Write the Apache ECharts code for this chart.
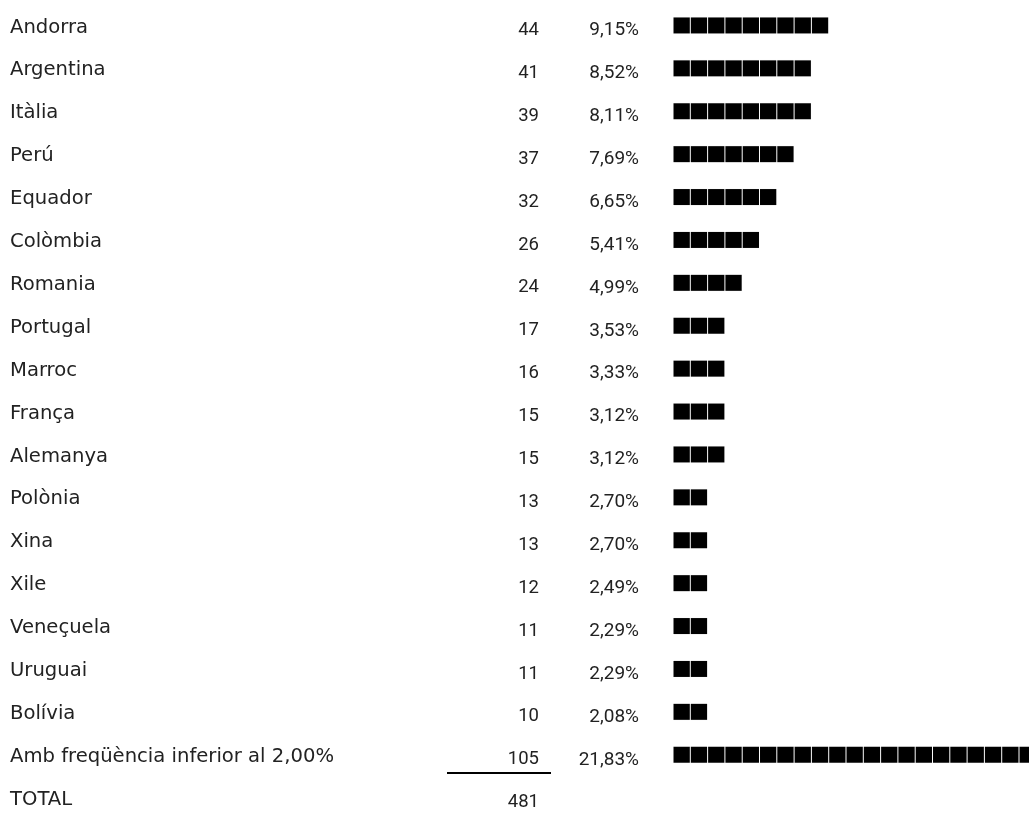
<!DOCTYPE html>
<html><head><meta charset="utf-8">
<script src="https://cdn.jsdelivr.net/npm/echarts@6/dist/echarts.min.js"></script>
<style>html,body{margin:0;padding:0;background:#fff}#c{width:1029px;height:818px}</style>
</head><body><div id="c"></div>
<script>
const countries = ['Andorra','Argentina','Itàlia','Perú','Equador','Colòmbia','Romania','Portugal','Marroc','França','Alemanya','Polònia','Xina','Xile','Veneçuela','Uruguai','Bolívia','Amb freqüència inferior al 2,00%','TOTAL'];
const counts = [44,41,39,37,32,26,24,17,16,15,15,13,13,12,11,11,10,105,481];
const percents = [9.15,8.52,8.11,7.69,6.65,5.41,4.99,3.53,3.33,3.12,3.12,2.70,2.70,2.49,2.29,2.29,2.08,21.83,null];

const fmtPct = v => v == null ? '' : v.toFixed(2).replace('.', ',') + '%';
// one block per whole percentage point
const barData = percents.map(p => p == null ? null : ({ value: p, symbolBoundingData: Math.floor(p) }));

const chart = echarts.init(document.getElementById('c'), null, { renderer: 'canvas' });
const labelBase = { interval: 0, color: '#222' };
const hiddenAxis = { axisLine: { show: false }, axisTick: { show: false }, splitLine: { show: false } };
const numRich = { n: { fontFamily: 'Roboto', fontSize: 18.5, color: '#222', padding: [6, 0, 0, 0] } };
chart.setOption({
  animation: false,
  backgroundColor: '#fff',
  grid: { left: 673, top: 6, height: 815.1, width: 346, outerBoundsMode: 'none', containLabel: false },
  xAxis: { type: 'value', min: 0, max: 20, show: false },
  yAxis: [
    Object.assign({ type: 'category', inverse: true, data: countries, position: 'left',
      axisLabel: Object.assign({}, labelBase, { align: 'left', margin: 663, fontFamily: 'DejaVu Sans', fontSize: 19.6 }) }, hiddenAxis),
    Object.assign({ type: 'category', inverse: true, data: countries, position: 'left', gridIndex: 0,
      axisLabel: Object.assign({}, labelBase, { align: 'right', margin: 134, rich: numRich,
        formatter: (v, i) => '{n|' + counts[i] + '}' }) }, hiddenAxis),
    Object.assign({ type: 'category', inverse: true, data: countries, position: 'left', gridIndex: 0,
      axisLabel: Object.assign({}, labelBase, { align: 'right', margin: 34, rich: { n: Object.assign({}, numRich.n, { fontSize: 19 }) },
        formatter: (v, i) => percents[i] == null ? '' : '{n|' + fmtPct(percents[i]) + '}' }) }, hiddenAxis)
  ],
  series: [{
    type: 'pictorialBar',
    yAxisIndex: 0,
    symbol: 'rect',
    symbolSize: [16.3, 16],
    symbolRepeat: 'fixed',
    symbolMargin: 0,
    symbolClip: false,
    symbolOffset: [0, -2],
    itemStyle: { color: '#000', borderColor: '#6a6a6a', borderWidth: 1 },
    data: barData,
    silent: true
  }],
  graphic: [{
    type: 'line', silent: true,
    shape: { x1: 447, y1: 773, x2: 551, y2: 773 },
    style: { stroke: '#000', lineWidth: 2 }
  }]
});
</script></body></html>
